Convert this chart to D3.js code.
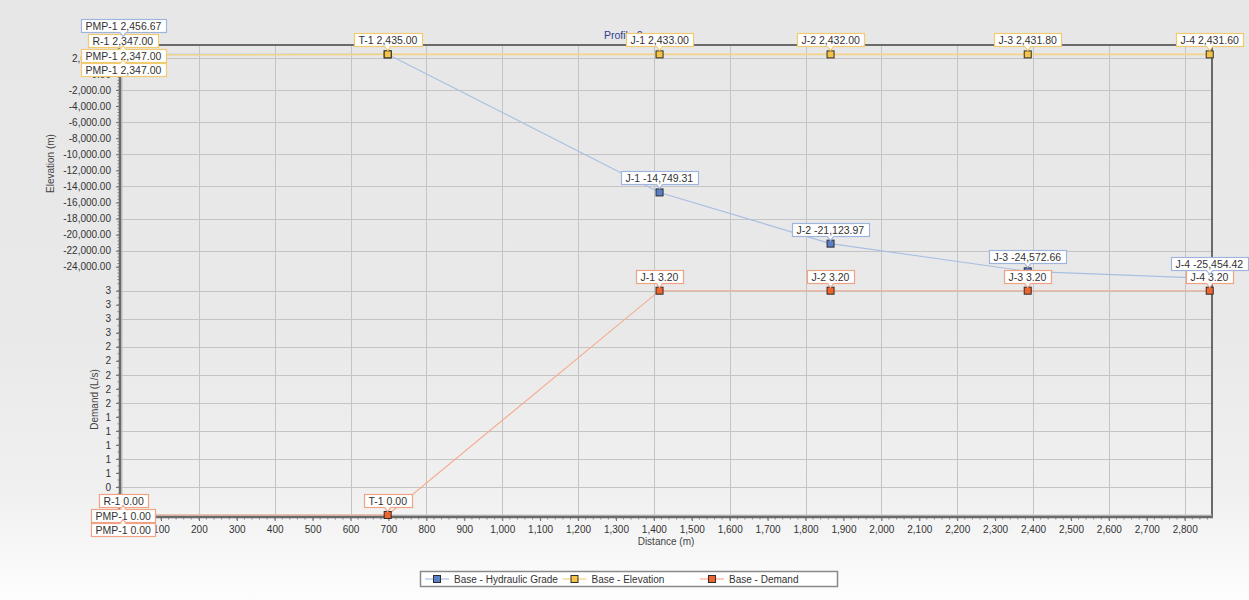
<!DOCTYPE html>
<html>
<head>
<meta charset="utf-8">
<script src="https://cdn.jsdelivr.net/npm/d3@7"></script>
<style>
  html, body { margin: 0; padding: 0; }
  body { width: 1249px; height: 600px; overflow: hidden; }
  svg { display: block; font-family: "Liberation Sans", Arial, sans-serif; }
</style>
</head>
<body>
<svg id="chart" width="1249" height="600"></svg>
<script>
// ---- profile data ----
const chartTitle = "Profile 2";

// hydraulic grade line (m)
const hglNodes    = ["PMP-1", "T-1", "J-1", "J-2", "J-3", "J-4"];
const hglDistance = [0, 698, 1415, 1866, 2386, 2866];
const hglValues   = [2456.67, 2435.00, -14749.31, -21123.97, -24572.66, -25454.42];

// ground elevation (m)
const elevNodes    = ["R-1", "PMP-1", "PMP-1", "T-1", "J-1", "J-2", "J-3", "J-4"];
const elevDistance = [0, 0, 0, 698, 1415, 1866, 2386, 2866];
const elevValues   = [2347.00, 2347.00, 2347.00, 2435.00, 2433.00, 2432.00, 2431.80, 2431.60];

// nodal demand (L/s)
const demandNodes    = ["R-1", "PMP-1", "PMP-1", "T-1", "J-1", "J-2", "J-3", "J-4"];
const demandDistance = [0, 0, 0, 698, 1415, 1866, 2386, 2866];
const demandValues   = [0.00, 0.00, 0.00, 0.00, 3.20, 3.20, 3.20, 3.20];

// axis ticks
const distanceTicks  = d3.range(0, 2801, 100);
const distanceGrid   = d3.range(200, 2801, 200);
const elevationTicks = d3.range(2000, -24001, -2000);
const elevationGrid  = d3.range(2000, -22001, -4000);
const demandTicks    = d3.range(0, 17).map(i => i * 0.2);
const demandGrid     = d3.range(0, 9).map(i => i * 0.4);

const legendItems = ["Base - Hydraulic Grade", "Base - Elevation", "Base - Demand"];

// ---- styling ----
const colors = {
  hgl:    { line: "#a9bee3", fill: "#5b7fc6", border: "#9fb5de" },
  elev:   { line: "#f1d488", fill: "#f6c445", border: "#f0cb72" },
  demand: { line: "#f6aa8c", fill: "#f0642f", border: "#f0a285" }
};

const locale = d3.formatLocale({ decimal: ".", thousands: ",", grouping: [3], currency: ["$", ""], minus: "-" });
const fmt2 = locale.format(",.2f");
const fmtInt = locale.format(",d");
const fmt0 = locale.format(".0f");

const svg = d3.select("#chart");
const W = 1249, H = 600;
const P = { left: 120, right: 1212, top: 45, split: 282, bottom: 517 };

// background
const defs = svg.append("defs");
const bg = defs.append("linearGradient").attr("id", "bgGrad").attr("x1", 0).attr("x2", 0).attr("y1", 0).attr("y2", 1);
bg.append("stop").attr("offset", "0%").attr("stop-color", "#e7e7e7");
bg.append("stop").attr("offset", "55%").attr("stop-color", "#e9e9e9");
bg.append("stop").attr("offset", "82%").attr("stop-color", "#f0f0f0");
bg.append("stop").attr("offset", "100%").attr("stop-color", "#fdfdfd");
svg.append("rect").attr("width", W).attr("height", H).attr("fill", "url(#bgGrad)");

// scales
const x = d3.scaleLinear().domain([-8, 2872]).range([P.left, P.right]);
const yElev = d3.scaleLinear().domain([3600, -25900]).range([P.top, P.split]);
const yDem = d3.scaleLinear().domain([-0.0285, 3.324]).range([P.bottom, P.split]);

// grid
const grid = svg.append("g").attr("stroke", "#c4c4c4").attr("stroke-width", 1);
grid.selectAll(".gx").data(distanceGrid).join("line")
  .attr("x1", d => Math.round(x(d)) + 0.5).attr("x2", d => Math.round(x(d)) + 0.5)
  .attr("y1", P.top).attr("y2", P.bottom);
grid.selectAll(".ge").data(elevationGrid).join("line")
  .attr("x1", P.left).attr("x2", P.right)
  .attr("y1", d => Math.round(yElev(d)) + 0.5).attr("y2", d => Math.round(yElev(d)) + 0.5);
grid.selectAll(".gd").data(demandGrid).join("line")
  .attr("x1", P.left).attr("x2", P.right)
  .attr("y1", d => Math.round(yDem(d)) + 0.5).attr("y2", d => Math.round(yDem(d)) + 0.5);

// axes
const axisText = g => g.selectAll("text")
  .attr("font-size", 10).attr("fill", "#333").attr("font-family", "Liberation Sans, Arial, sans-serif");

const xAxis = svg.append("g").attr("transform", `translate(0,${P.bottom})`)
  .call(d3.axisBottom(x).tickValues(distanceTicks).tickFormat(fmtInt).tickSize(4).tickPadding(5));
xAxis.select(".domain").remove();
xAxis.selectAll("line").attr("stroke", "#666");
axisText(xAxis);

const elevAxis = svg.append("g").attr("transform", `translate(${P.left},0)`)
  .call(d3.axisLeft(yElev).tickValues(elevationTicks).tickFormat(fmt2).tickSize(4).tickPadding(5));
elevAxis.select(".domain").remove();
elevAxis.selectAll("line").attr("stroke", "#666");
axisText(elevAxis);

const demAxis = svg.append("g").attr("transform", `translate(${P.left},0)`)
  .call(d3.axisLeft(yDem).tickValues(demandTicks).tickFormat(d => fmt0(d)).tickSize(4).tickPadding(5));
demAxis.select(".domain").remove();
demAxis.selectAll("line").attr("stroke", "#666");
axisText(demAxis);

// minor ticks
const minor = svg.append("g").attr("stroke", "#888").attr("stroke-width", 1);
minor.selectAll(".mx").data(d3.range(0, 2861, 20)).join("line")
  .attr("x1", d => x(d)).attr("x2", d => x(d)).attr("y1", P.bottom).attr("y2", P.bottom + 2.5);
minor.selectAll(".me").data(d3.range(3600, -25801, -400)).join("line")
  .attr("x1", P.left - 2.5).attr("x2", P.left).attr("y1", d => yElev(d)).attr("y2", d => yElev(d));
minor.selectAll(".md").data(d3.range(0, 34).map(i => i * 0.1)).join("line")
  .attr("x1", P.left - 2.5).attr("x2", P.left).attr("y1", d => yDem(d)).attr("y2", d => yDem(d));

// frame
svg.append("line").attr("x1", P.left - 1).attr("x2", P.right + 1).attr("y1", P.top).attr("y2", P.top)
  .attr("stroke", "#6a6a6a").attr("stroke-width", 2);
svg.append("line").attr("x1", P.right).attr("x2", P.right).attr("y1", P.top).attr("y2", P.bottom)
  .attr("stroke", "#6a6a6a").attr("stroke-width", 2);
svg.append("line").attr("x1", P.left + 2).attr("x2", P.left + 2).attr("y1", P.top).attr("y2", P.bottom)
  .attr("stroke", "#bdbdbd").attr("stroke-width", 1);
svg.append("line").attr("x1", P.left).attr("x2", P.left).attr("y1", P.top - 1).attr("y2", P.bottom + 1)
  .attr("stroke", "#6a6a6a").attr("stroke-width", 2.5);
svg.append("line").attr("x1", P.left).attr("x2", P.right).attr("y1", P.bottom - 2).attr("y2", P.bottom - 2)
  .attr("stroke", "#c8c8c8").attr("stroke-width", 1);
svg.append("line").attr("x1", P.left - 1).attr("x2", P.right + 1).attr("y1", P.bottom).attr("y2", P.bottom)
  .attr("stroke", "#6a6a6a").attr("stroke-width", 2.5);

// axis titles
svg.append("text").attr("transform", `translate(54,${(P.top + P.split) / 2}) rotate(-90)`)
  .attr("text-anchor", "middle").attr("font-size", 10).attr("fill", "#444").text("Elevation (m)");
svg.append("text").attr("transform", `translate(98,${(P.split + P.bottom) / 2}) rotate(-90)`)
  .attr("text-anchor", "middle").attr("font-size", 10).attr("fill", "#444").text("Demand (L/s)");
svg.append("text").attr("x", (P.left + P.right) / 2).attr("y", 545)
  .attr("text-anchor", "middle").attr("font-size", 10).attr("fill", "#444").text("Distance (m)");

// title
svg.append("text").attr("x", 604).attr("y", 39)
  .attr("font-size", 10.5).attr("fill", "#2f3f8f").text(chartTitle);

// series
const series = [
  { key: "hgl",    nodes: hglNodes,    dist: hglDistance,    vals: hglValues,    y: yElev, order: [0, -1, -2, -3, 1, 2, 3] },
  { key: "elev",   nodes: elevNodes,   dist: elevDistance,   vals: elevValues,   y: yElev, order: [0, 1, 2, 3, -1, -2, -3] },
  { key: "demand", nodes: demandNodes, dist: demandDistance, vals: demandValues, y: yDem,  order: [0, 1, 2, 3, -1, -2, -3] }
];

const lineLayer = svg.append("g");
const markerLayer = svg.append("g");
const labelLayer = svg.append("g");

series.forEach(s => {
  const pts = s.vals.map((v, i) => [x(s.dist[i]), s.y(v)]);
  lineLayer.append("path")
    .attr("d", d3.line()(pts))
    .attr("fill", "none")
    .attr("stroke", colors[s.key].line)
    .attr("stroke-width", s.key === "elev" ? 1.6 : 1.1);
});

// markers: hydraulic grade below elevation, demand on top
series.forEach(s => {
  markerLayer.selectAll(null).data(s.vals).join("rect")
    .attr("x", (v, i) => x(s.dist[i]) - 3.5)
    .attr("y", v => s.y(v) - 3.5)
    .attr("width", 7).attr("height", 7)
    .attr("fill", colors[s.key].fill)
    .attr("stroke", "#2e2e2e").attr("stroke-width", 1);
});

// callout labels with simple collision stacking
const placed = [];
const boxH = 13, gap = 8, step = 14.5;
function overlaps(a, b) {
  return a.x0 < b.x1 && b.x0 < a.x1 && a.y0 < b.y1 - 1 && b.y0 < a.y1 - 1;
}
function addLabel(key, text, px, py, color, order) {
  // a callout of another series with the same text at the same point is redundant
  if (placed.some(p => p.key !== key && p.text === text && Math.abs(p.px - px) < 1 && Math.abs(p.py - py) < 1)) return;
  const g = labelLayer.append("g");
  const t = g.append("text").attr("font-size", 10.5).attr("fill", "#333").text(text);
  const w = Math.round(t.node().getComputedTextLength() + 9);
  let box = null;
  for (const s of order) {
    const top = py - gap - boxH + s * step;
    const b = { x0: px - w / 2, x1: px + w / 2, y0: top, y1: top + boxH };
    if (!placed.some(p => overlaps(p.box, b))) { box = b; break; }
  }
  if (!box) { const top = py - gap - boxH; box = { x0: px - w / 2, x1: px + w / 2, y0: top, y1: top + boxH }; }
  placed.push({ key, text, px, py, box });
  g.insert("rect", "text")
    .attr("x", Math.round(box.x0) + 0.5).attr("y", Math.round(box.y0) + 0.5)
    .attr("width", w).attr("height", boxH)
    .attr("fill", "#fff").attr("stroke", color).attr("stroke-width", 1.2);
  const above = (box.y0 + box.y1) / 2 < py;
  const yb = above ? Math.round(box.y1) + 0.5 : Math.round(box.y0) + 0.5;
  const dir = above ? 1 : -1;
  g.insert("path", "text")
    .attr("d", `M${px - 3},${yb} L${px},${yb + dir * 4} L${px + 3},${yb}`)
    .attr("fill", "#fff").attr("stroke", color).attr("stroke-width", 1.2);
  g.insert("rect", "text")
    .attr("x", px - 2.4).attr("y", yb - (above ? 1 : 0)).attr("width", 4.8).attr("height", 1.2)
    .attr("fill", "#fff");
  t.attr("x", Math.round(box.x0) + 4.5).attr("y", Math.round(box.y0) + 10.5);
}

// placement order: elevation, demand, hydraulic grade
[series[1], series[2], series[0]].forEach(s => {
  s.vals.forEach((v, i) => {
    addLabel(s.key, `${s.nodes[i]} ${fmt2(v)}`, x(s.dist[i]), s.y(v), colors[s.key].border, s.order);
  });
});

// tick labels whose glyphs lie completely under a callout cannot be seen; drop them
const svgRect = svg.node().getBoundingClientRect();
svg.selectAll(".tick text").each(function () {
  const r = this.getBoundingClientRect();
  // shrink the line box to the digit ink (no ascender gap, no descender)
  const ix0 = r.left - svgRect.left, ix1 = r.right - svgRect.left;
  const iy0 = r.top - svgRect.top + 0.2 * r.height, iy1 = r.bottom - svgRect.top - 0.2 * r.height;
  const hidden = placed.some(p => p.box.x0 <= ix0 + 0.5 && p.box.x1 >= ix1 - 0.5 && p.box.y0 <= iy0 + 1 && p.box.y1 >= iy1 - 1);
  if (hidden) d3.select(this).remove();
});

// legend
const lg = svg.append("g");
lg.append("rect").attr("x", 420.5).attr("y", 571.5).attr("width", 417).attr("height", 15)
  .attr("fill", "#fff").attr("stroke", "#8a8a8a").attr("stroke-width", 1.5);
const legendKeys = ["hgl", "elev", "demand"];
legendItems.forEach((name, i) => {
  const x0 = 425 + i * 137.5;
  const c = colors[legendKeys[i]];
  lg.append("line").attr("x1", x0).attr("x2", x0 + 24).attr("y1", 579).attr("y2", 579)
    .attr("stroke", c.line).attr("stroke-width", 1.2);
  lg.append("rect").attr("x", x0 + 8.5).attr("y", 575.5).attr("width", 7).attr("height", 7)
    .attr("fill", c.fill).attr("stroke", "#2e2e2e");
  lg.append("text").attr("x", x0 + 29).attr("y", 582.5).attr("font-size", 10).attr("fill", "#333").text(name);
});
</script>
</body>
</html>
